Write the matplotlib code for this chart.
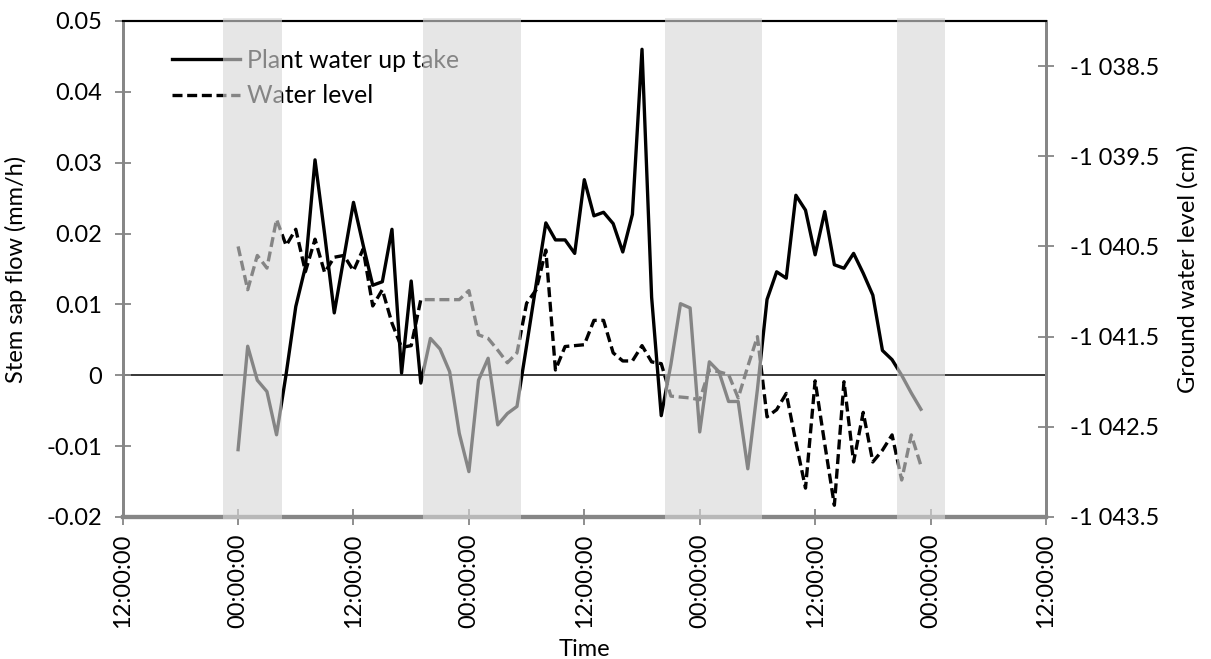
import numpy as np
import matplotlib.pyplot as plt
from matplotlib.ticker import FuncFormatter, MultipleLocator

plt.rcParams['font.family'] = ['Lato', 'DejaVu Sans']

# Hourly readings, starting at midnight of the first day
uptake = [-0.0105, 0.0041, -0.0007, -0.0023, -0.0084, 0.0002, 0.0097, 0.0153,
          0.0304, 0.0199, 0.0088, 0.0166, 0.0244, 0.0184, 0.0127, 0.0132,
          0.0206, 0.0003, 0.0133, -0.0011, 0.0052, 0.0037, 0.0005, -0.0082,
          -0.0136, -0.0007, 0.0024, -0.0070, -0.0054, -0.0044, 0.0042, 0.0129,
          0.0215, 0.0191, 0.0191, 0.0172, 0.0276, 0.0225, 0.0230, 0.0214,
          0.0174, 0.0227, 0.0460, 0.0110, -0.0057, 0.0015, 0.0101, 0.0095,
          -0.0080, 0.0019, 0.0005, -0.0037, -0.0037, -0.0132, -0.0020, 0.0107,
          0.0146, 0.0137, 0.0254, 0.0233, 0.0170, 0.0231, 0.0156, 0.0151,
          0.0172, 0.0144, 0.0113, 0.0035, 0.0022, 0.0000, -0.0025, -0.0048]

water_level = [-1040.50, -1040.98, -1040.60, -1040.74, -1040.20, -1040.49,
               -1040.31, -1040.78, -1040.42, -1040.79, -1040.62, -1040.60,
               -1040.77, -1040.53, -1041.16, -1040.98, -1041.35, -1041.62,
               -1041.60, -1041.09, -1041.09, -1041.09, -1041.09, -1041.09,
               -1040.99, -1041.48, -1041.52, -1041.65, -1041.79, -1041.68,
               -1041.13, -1040.98, -1040.54, -1041.87, -1041.61, -1041.60,
               -1041.59, -1041.32, -1041.32, -1041.68, -1041.77, -1041.77,
               -1041.60, -1041.78, -1041.80, -1042.16, -1042.17, -1042.18,
               -1042.20, -1041.87, -1041.89, -1041.92, -1042.18, -1041.83,
               -1041.50, -1042.39, -1042.31, -1042.13, -1042.67, -1043.18,
               -1041.99, -1042.69, -1043.37, -1042.00, -1042.89, -1042.34,
               -1042.89, -1042.76, -1042.59, -1043.09, -1042.59, -1042.93]

hours = np.arange(len(uptake))

# Night periods, in hours from the first midnight
night_start = [-1.6, 19.25, 44.35, 68.5]
night_end = [4.6, 29.4, 54.45, 73.5]

axis_grey = '#868686'
fs = 17

fig = plt.figure(figsize=(12.11, 6.59), dpi=100)
ax = fig.add_axes([0.1013, 0.2155, 0.7624, 0.7527])
ax2 = ax.twinx()

ax.axhline(0, color='black', lw=1.1, zorder=1)
l1, = ax.plot(hours, uptake, color='black', lw=2.4, label='Plant water up take')
l2, = ax2.plot(hours, water_level, color='black', lw=2.4, ls=(0, (3, 1.4)),
               label='Water level')

ax.set_xlim(-12, 84)
ax.set_ylim(-0.02, 0.05)
ax2.set_ylim(-1043.5, -1038.0)

ax.yaxis.set_major_locator(MultipleLocator(0.01))
ax.yaxis.set_major_formatter(FuncFormatter(lambda v, p: f'{round(v, 3):g}'))
ax2.set_yticks(np.arange(-1043.5, -1038.4, 1.0))
ax2.yaxis.set_major_formatter(
    FuncFormatter(lambda v, p: '-' + f'{abs(v):,.1f}'.replace(',', ' ')))

xt = np.arange(-12, 85, 12)
ax.set_xticks(xt)
ax.set_xticklabels(['12:00:00' if h % 24 == 12 else '00:00:00' for h in xt],
                   rotation=90)

for a in (ax, ax2):
    a.tick_params(direction='inout', length=12, width=1.3, color=axis_grey,
                  labelsize=fs, pad=6)
    for side in ('left', 'right', 'bottom'):
        a.spines[side].set_color(axis_grey)
        a.spines[side].set_linewidth(2)
    a.spines['bottom'].set_linewidth(3)
    a.spines['top'].set_color('black')
    a.spines['top'].set_linewidth(1.5)
ax.tick_params(axis='y', pad=9)
ax2.tick_params(axis='y', pad=11)

ax.set_xlabel('Time', fontsize=fs)
ax.xaxis.set_label_coords(0.5, -0.245)
ax.set_ylabel('Stem sap flow (mm/h)', fontsize=fs)
ax.yaxis.set_label_coords(-0.104, 0.5)
ax2.set_ylabel('Ground water level (cm)', fontsize=fs)
ax2.yaxis.set_label_coords(1.142, 0.5)

ax2.legend(handles=[l1, l2], loc='upper left', frameon=False, fontsize=17.8,
           bbox_to_anchor=(172 / 1211, 1 - 49 / 659),
           bbox_transform=fig.transFigure, borderpad=0, borderaxespad=0,
           handlelength=2.75, handletextpad=0.3, labelspacing=0.5)

# Night shading: a translucent light grey veil laid over everything beneath
for s, e in zip(night_start, night_end):
    ax2.axvspan(s, e, ymin=-0.004, ymax=1.006, color='#d7d7d7', alpha=0.625,
                lw=0, zorder=10, clip_on=False)

fig.savefig('out.png', dpi=100)
